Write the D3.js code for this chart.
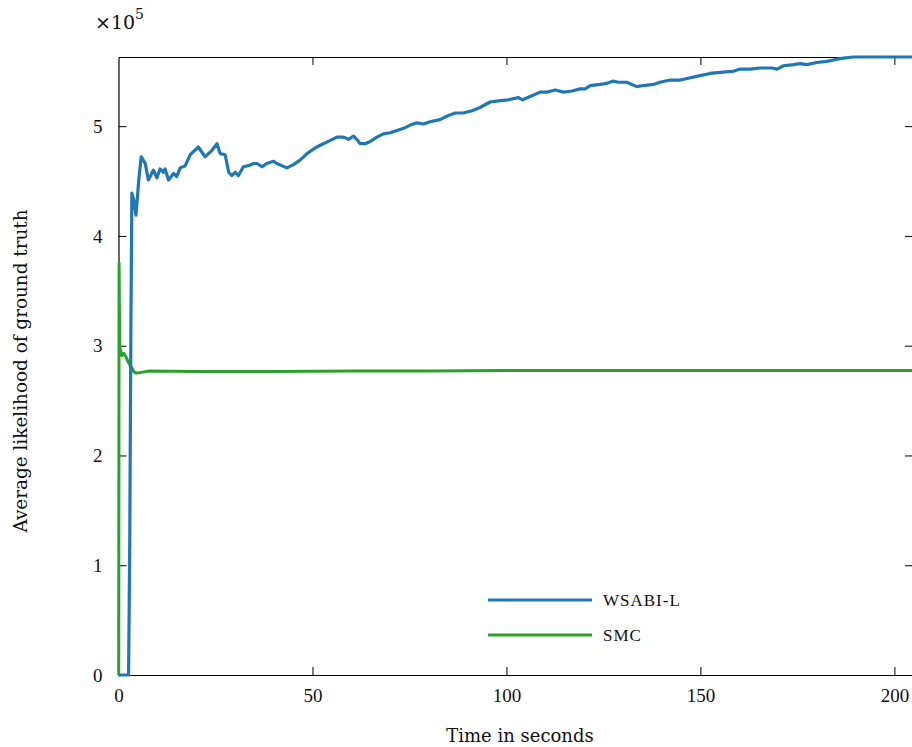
<!DOCTYPE html>
<html>
<head>
<meta charset="utf-8">
<script src="https://cdn.jsdelivr.net/npm/d3@7"></script>
<style>
  body { margin: 0; background: #fff; }
  svg { display: block; font-family: "Liberation Serif", serif; }
  text { fill: #111; }
</style>
</head>
<body>
<div id="chart"></div>
<script>
// time (s) and average likelihood (x1e5)
var wsabiT = [0, 2.6, 2.9, 3.2, 3.45, 3.9, 4.5, 5.2, 5.85, 6.9, 7.7, 9.0, 9.9, 10.7, 11.6, 12.0, 12.9,
  14.2, 15.0, 15.9, 17.2, 18.5, 20.6, 22.3, 24.1, 25.4, 26.2, 27.5, 28.4, 29.2, 30.1, 30.9, 32.2,
  33.5, 34.8, 35.7, 37.0, 38.2, 40.0, 40.8, 43.4, 45.1, 46.8, 48.6, 49.8, 51.1, 52.8, 54.6, 56.3,
  58.0, 59.3, 60.6, 61.4, 62.3, 63.6, 64.9, 66.6, 68.3, 70.0, 71.8, 73.5, 75.2, 76.9, 78.6, 80.3,
  82.9, 84.6, 86.8, 88.9, 91.1, 93.2, 95.8, 97.9, 100.5, 103.1, 104.2, 106.1, 108.7, 110.4, 112.6,
  114.7, 116.9, 119.0, 120.3, 121.6, 124.2, 125.9, 127.4, 128.9, 131.0, 133.6, 135.3, 137.9, 139.6,
  142.2, 144.8, 149.9, 152.5, 155.1, 158.5, 160.2, 162.8, 165.4, 168.4, 169.8, 171.4, 174.0, 175.7,
  177.4, 180.0, 182.6, 185.2, 186.9, 189.4, 195.0, 204.8];
var wsabiY = [0, 0, 1.2, 3.2, 4.39, 4.33, 4.19, 4.5, 4.72, 4.66, 4.51, 4.60, 4.53, 4.61, 4.58, 4.61, 4.51,
  4.57, 4.54, 4.62, 4.64, 4.74, 4.81, 4.72, 4.78, 4.84, 4.75, 4.74, 4.58, 4.55, 4.58, 4.55, 4.63,
  4.64, 4.66, 4.66, 4.63, 4.66, 4.68, 4.66, 4.62, 4.65, 4.69, 4.75, 4.78, 4.81, 4.84, 4.87, 4.90,
  4.90, 4.88, 4.91, 4.88, 4.84, 4.84, 4.86, 4.90, 4.93, 4.94, 4.96, 4.98, 5.01, 5.03, 5.02, 5.04,
  5.06, 5.09, 5.12, 5.12, 5.14, 5.17, 5.22, 5.23, 5.24, 5.26, 5.24, 5.27, 5.31, 5.31, 5.33,
  5.31, 5.32, 5.34, 5.34, 5.37, 5.38, 5.39, 5.41, 5.40, 5.40, 5.36, 5.37, 5.38, 5.40,
  5.42, 5.42, 5.46, 5.48, 5.49, 5.50, 5.52, 5.52, 5.53, 5.53, 5.52, 5.55, 5.56, 5.57,
  5.56, 5.58, 5.59, 5.61, 5.62, 5.63, 5.63, 5.63];

var smcT = [0, 0.05, 0.15, 0.3, 0.9, 1.4, 1.9, 2.5, 3.4, 4.0, 4.7, 8, 20, 40, 60, 80, 100, 120, 140, 160, 180, 204.8];
var smcY = [0, 0, 3.75, 2.99, 2.91, 2.93, 2.90, 2.85, 2.80, 2.76, 2.75, 2.77, 2.765, 2.765, 2.77, 2.77, 2.775, 2.775, 2.775, 2.775, 2.775, 2.775];

var xTicks = [0, 50, 100, 150, 200];
var yTicks = [0, 1, 2, 3, 4, 5];
var seriesNames = ["WSABI-L", "SMC"];
var seriesColors = ["#1f77b4", "#2ca02c"];

var width = 912, height = 747;
var plotL = 118.5, plotR = 913, plotT = 57, plotB = 675;
var serif = "Liberation Serif, serif";
var wideSerif = "DejaVu Serif, serif";

var svg = d3.select("#chart").append("svg")
  .attr("width", width)
  .attr("height", height);

var x = d3.scaleLinear().domain([0, 204.8]).range([plotL, plotR]);
var y = d3.scaleLinear().domain([0, 5.63]).range([plotB, plotT]);

var line = d3.line()
  .x(function(d) { return x(d[0]); })
  .y(function(d) { return y(d[1]); });

var wsabi = d3.zip(wsabiT, wsabiY);
var smc = d3.zip(smcT, smcY);

// frame with inward ticks on all four sides
svg.append("g").attr("transform", "translate(0," + plotB + ")")
  .call(d3.axisBottom(x).tickValues(xTicks).tickSizeInner(-8).tickSizeOuter(0).tickPadding(14))
  .call(function(g) {
    g.selectAll("text").attr("font-size", 19).attr("font-family", serif).attr("fill", "#111");
  });
svg.append("g").attr("transform", "translate(0," + plotT + ")")
  .call(d3.axisTop(x).tickValues(xTicks).tickSizeInner(-8).tickSizeOuter(0).tickFormat(""));
svg.append("g").attr("transform", "translate(" + plotL + ",0)")
  .call(d3.axisLeft(y).tickValues(yTicks).tickSizeInner(-8).tickSizeOuter(0).tickPadding(16).tickFormat(d3.format("d")))
  .call(function(g) {
    g.selectAll("text").attr("font-size", 19).attr("font-family", serif).attr("fill", "#111");
  });
svg.append("g").attr("transform", "translate(" + plotR + ",0)")
  .call(d3.axisRight(y).tickValues(yTicks).tickSizeInner(-8).tickSizeOuter(0).tickFormat(""));
svg.selectAll(".domain").attr("stroke", "#000").attr("stroke-width", 1.2);
svg.selectAll(".tick line").attr("stroke", "#000");
svg.selectAll(".tick").filter(function(d) { return d === 0; }).select("line").remove();

svg.append("path").datum(smc)
  .attr("fill", "none")
  .attr("stroke", seriesColors[1])
  .attr("stroke-width", 3)
  .attr("stroke-linejoin", "round")
  .attr("d", line);

svg.append("path").datum(wsabi)
  .attr("fill", "none")
  .attr("stroke", seriesColors[0])
  .attr("stroke-width", 3.2)
  .attr("stroke-linejoin", "round")
  .attr("d", line);

// exponent
var ex = svg.append("text").attr("x", 95).attr("y", 29).attr("font-size", 19).attr("font-family", wideSerif);
ex.append("tspan").text("×10");
ex.append("tspan").attr("dy", -10).attr("font-size", 14).text("5");

// axis titles
svg.append("text")
  .attr("x", 520).attr("y", 742)
  .attr("text-anchor", "middle").attr("font-size", 18)
  .attr("font-family", wideSerif)
  .text("Time in seconds");
svg.append("text")
  .attr("transform", "translate(27,371) rotate(-90)")
  .attr("text-anchor", "middle").attr("font-size", 18.4)
  .attr("font-family", wideSerif)
  .text("Average likelihood of ground truth");

// legend
var legend = svg.append("g");
seriesNames.forEach(function(name, i) {
  var ly = 600 + i * 35;
  legend.append("line")
    .attr("x1", 488).attr("x2", 592).attr("y1", ly).attr("y2", ly)
    .attr("stroke", seriesColors[i]).attr("stroke-width", 3.2);
  legend.append("text")
    .attr("x", 603).attr("y", ly + 6)
    .attr("font-size", 17)
    .attr("font-family", serif)
    .attr("letter-spacing", 1)
    .text(name);
});
</script>
</body>
</html>
